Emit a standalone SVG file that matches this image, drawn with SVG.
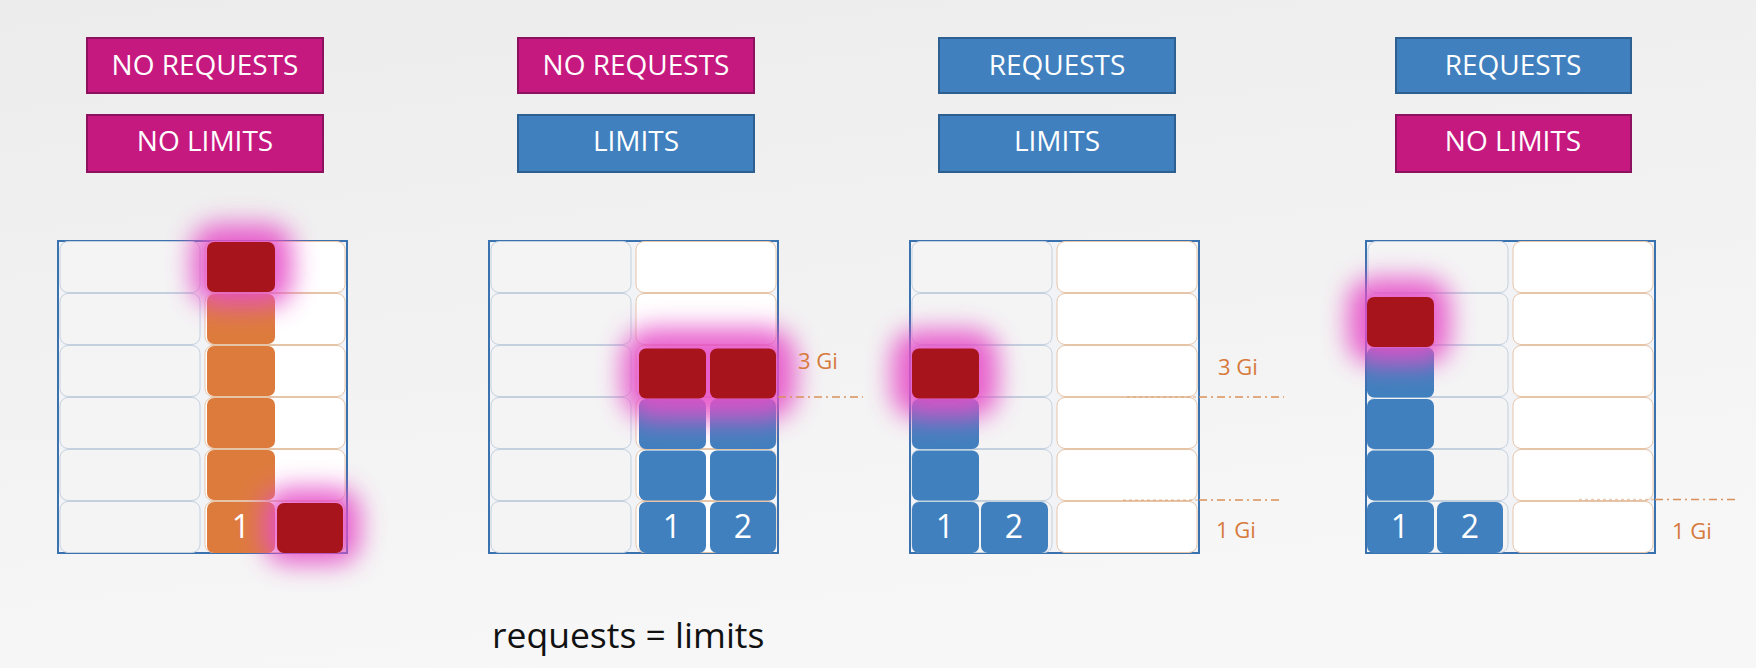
<svg xmlns="http://www.w3.org/2000/svg" width="1756" height="668" viewBox="0 0 1756 668">
<defs>
<linearGradient id="bg" x1="0" y1="0" x2="0.3" y2="1">
<stop offset="0" stop-color="#ececec"/>
<stop offset="1" stop-color="#f7f7f7"/>
</linearGradient>
<filter id="glow" x="-60%" y="-60%" width="220%" height="220%">
<feGaussianBlur stdDeviation="13"/>
</filter>
<style>
.lbl{font-family:"Open Sans","Noto Sans","Liberation Sans",sans-serif;font-size:28px;fill:#ffffff;text-anchor:middle}
.mag{fill:#c6197f;stroke:#8c1260;stroke-width:2}
.blu{fill:#4180be;stroke:#2d5f90;stroke-width:2}
.panel{fill:#f1f3f6;stroke:#3a72b0;stroke-width:2}
.cl{fill:#f4f4f5;stroke:#c3d0de;stroke-width:1}
.cr{fill:#ffffff;stroke:#e6c4a8;stroke-width:1}
.bb{fill:#4180be}
.ob{fill:#dd7b3d}
.rb{fill:#a8141c}
.gl{fill:#e650c8;opacity:0.9;filter:url(#glow)}
.num{font-family:"Open Sans","Noto Sans","Liberation Sans",sans-serif;font-size:32px;fill:#ffffff;text-anchor:middle}
.gi{font-family:"Open Sans","Noto Sans","Liberation Sans",sans-serif;font-size:22px;fill:#d67a3c}
.dash{stroke:#d9905a;stroke-width:1.5;stroke-dasharray:8 4 2 4;fill:none}
.dashin{stroke:#d9905a;stroke-width:1.5;stroke-dasharray:3 3;fill:none;opacity:0.45}
.cap{font-family:"Open Sans","Noto Sans","Liberation Sans",sans-serif;font-size:35.5px;fill:#111111}
</style>
<g id="cells">
<rect class="cl" x="2" y="0.5" width="140" height="51" rx="8"/>
<rect class="cl" x="2" y="52.5" width="140" height="51" rx="8"/>
<rect class="cl" x="2" y="104.5" width="140" height="51" rx="8"/>
<rect class="cl" x="2" y="156.5" width="140" height="51" rx="8"/>
<rect class="cl" x="2" y="208.5" width="140" height="51" rx="8"/>
<rect class="cl" x="2" y="260.5" width="140" height="51" rx="8"/>
<rect class="cr" x="147" y="0.5" width="140" height="51" rx="8"/>
<rect class="cr" x="147" y="52.5" width="140" height="51" rx="8"/>
<rect class="cr" x="147" y="104.5" width="140" height="51" rx="8"/>
<rect class="cr" x="147" y="156.5" width="140" height="51" rx="8"/>
<rect class="cr" x="147" y="208.5" width="140" height="51" rx="8"/>
<rect class="cr" x="147" y="260.5" width="140" height="51" rx="8"/>
</g>
</defs>
<rect x="0" y="0" width="1756" height="668" fill="url(#bg)"/>

<g id="labels-1">
<rect class="mag" x="87" y="38" width="236" height="55"/>
<text class="lbl" x="205" y="75">NO REQUESTS</text>
<rect class="mag" x="87" y="115" width="236" height="57"/>
<text class="lbl" x="205" y="151">NO LIMITS</text>
</g>
<g id="labels-2">
<rect class="mag" x="518" y="38" width="236" height="55"/>
<text class="lbl" x="636" y="75">NO REQUESTS</text>
<rect class="blu" x="518" y="115" width="236" height="57"/>
<text class="lbl" x="636" y="151">LIMITS</text>
</g>
<g id="labels-3">
<rect class="blu" x="939" y="38" width="236" height="55"/>
<text class="lbl" x="1057" y="75">REQUESTS</text>
<rect class="blu" x="939" y="115" width="236" height="57"/>
<text class="lbl" x="1057" y="151">LIMITS</text>
</g>
<g id="labels-4">
<rect class="blu" x="1396" y="38" width="235" height="55"/>
<text class="lbl" x="1513" y="75">REQUESTS</text>
<rect class="mag" x="1396" y="115" width="235" height="57"/>
<text class="lbl" x="1513" y="151">NO LIMITS</text>
</g>

<g id="panel-1">
<rect class="panel" x="58" y="241" width="289" height="312"/>
<use href="#cells" x="58" y="241"/>
<rect class="ob" x="207" y="294" width="68" height="50" rx="7"/>
<rect class="ob" x="207" y="346" width="68" height="50" rx="7"/>
<rect class="ob" x="207" y="398" width="68" height="50" rx="7"/>
<rect class="ob" x="207" y="450" width="68" height="50" rx="7"/>
<rect class="ob" x="207" y="502" width="68" height="51" rx="7"/>
<rect class="gl" x="192" y="224" width="100" height="82" rx="24"/>
<rect class="gl" x="264" y="488" width="96" height="76" rx="24"/>
<rect class="rb" x="207" y="242" width="68" height="50" rx="7"/>
<rect class="rb" x="277" y="503" width="66" height="50" rx="7"/>
<text class="num" x="241" y="538">1</text>
</g>

<g id="panel-2">
<rect class="panel" x="489" y="241" width="289" height="312"/>
<use href="#cells" x="489" y="241"/>
<rect class="bb" x="639" y="399" width="67" height="50" rx="7"/>
<rect class="bb" x="639" y="450.5" width="67" height="50" rx="7"/>
<rect class="bb" x="639" y="502" width="67" height="51" rx="7"/>
<rect class="bb" x="710" y="399" width="66" height="50" rx="7"/>
<rect class="bb" x="710" y="450.5" width="66" height="50" rx="7"/>
<rect class="bb" x="710" y="502" width="66" height="51" rx="7"/>
<rect class="gl" x="622" y="328" width="174" height="92" rx="30"/>
<rect class="rb" x="639" y="348.5" width="67" height="50" rx="7"/>
<rect class="rb" x="710" y="348.5" width="66" height="50" rx="7"/>
<text class="num" x="672" y="538">1</text>
<text class="num" x="743" y="538">2</text>
</g>

<g id="panel-3">
<rect class="panel" x="910" y="241" width="289" height="312"/>
<use href="#cells" x="910" y="241"/>
<rect class="bb" x="912" y="399" width="67" height="50" rx="7"/>
<rect class="bb" x="912" y="450.5" width="67" height="50" rx="7"/>
<rect class="bb" x="912" y="502" width="67" height="51" rx="7"/>
<rect class="bb" x="981" y="502" width="67" height="51" rx="7"/>
<rect class="gl" x="892" y="330" width="106" height="88" rx="26"/>
<rect class="rb" x="912" y="348.5" width="67" height="50" rx="7"/>
<text class="num" x="945" y="538">1</text>
<text class="num" x="1014" y="538">2</text>
</g>

<g id="panel-4">
<rect class="panel" x="1366" y="241" width="289" height="312"/>
<use href="#cells" x="1366" y="241"/>
<rect class="bb" x="1367" y="347.5" width="67" height="50" rx="7"/>
<rect class="bb" x="1367" y="399" width="67" height="50" rx="7"/>
<rect class="bb" x="1367" y="450.5" width="67" height="50" rx="7"/>
<rect class="bb" x="1367" y="502" width="67" height="51" rx="7"/>
<rect class="bb" x="1437" y="502" width="66" height="51" rx="7"/>
<rect class="gl" x="1348" y="278" width="102" height="86" rx="26"/>
<rect class="rb" x="1367" y="297" width="67" height="50" rx="7"/>
<text class="num" x="1400" y="538">1</text>
<text class="num" x="1470" y="538">2</text>
</g>

<g id="guides">
<line class="dash" x1="778" y1="397" x2="863" y2="397"/>
<text class="gi" x="798" y="369">3 Gi</text>
<line class="dashin" x1="1127" y1="397" x2="1199" y2="397"/>
<line class="dash" x1="1199" y1="397" x2="1284" y2="397"/>
<text class="gi" x="1218" y="375">3 Gi</text>
<line class="dashin" x1="1123" y1="500" x2="1199" y2="500"/>
<line class="dash" x1="1199" y1="500" x2="1281" y2="500"/>
<text class="gi" x="1216" y="538">1 Gi</text>
<line class="dashin" x1="1579" y1="499.5" x2="1655" y2="499.5"/>
<line class="dash" x1="1655" y1="499.5" x2="1737" y2="499.5"/>
<text class="gi" x="1672" y="539">1 Gi</text>
</g>

<g id="caption">
<text class="cap" x="492" y="648">requests = limits</text>
</g>
</svg>
